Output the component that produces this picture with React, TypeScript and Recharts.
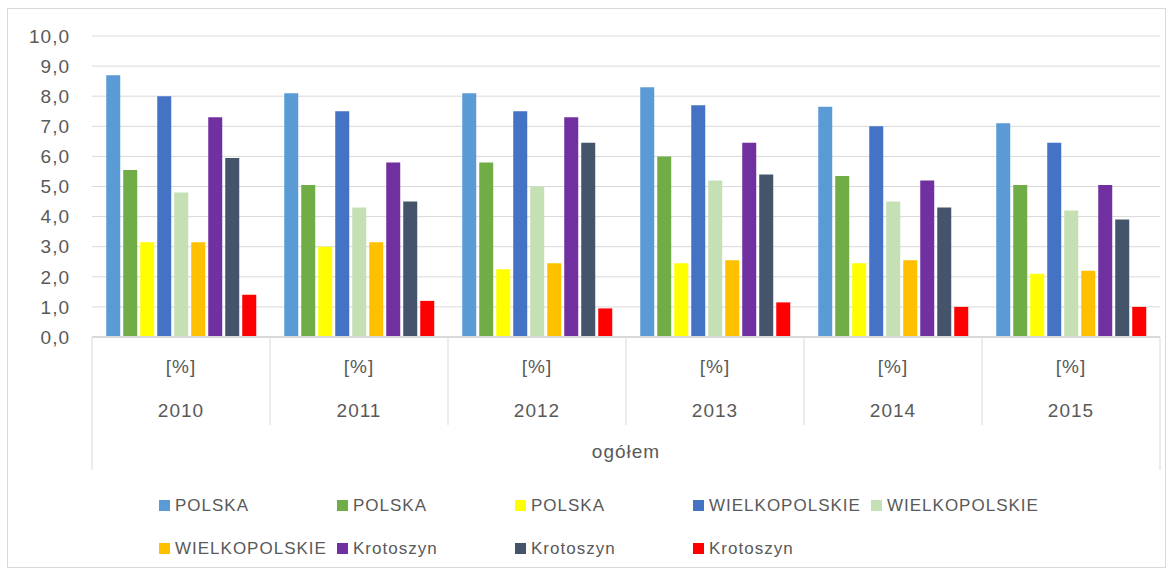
import React from 'react';
import { BarChart, Bar, XAxis, YAxis, CartesianGrid, Legend } from 'recharts';

const years = ['2010', '2011', '2012', '2013', '2014', '2015'];
const unitLabel = '[%]';
const groupLabel = 'ogółem';

const seriesNames = [
  'POLSKA', 'POLSKA', 'POLSKA',
  'WIELKOPOLSKIE', 'WIELKOPOLSKIE', 'WIELKOPOLSKIE',
  'Krotoszyn', 'Krotoszyn', 'Krotoszyn',
];
const seriesColors = [
  '#5B9BD5', '#70AD47', '#FFFF00',
  '#4472C4', '#C5E0B4', '#FFC000',
  '#7030A0', '#44546A', '#FF0000',
];

const polska1 = [8.7, 8.1, 8.1, 8.3, 7.65, 7.1];
const polska2 = [5.55, 5.05, 5.8, 6.0, 5.35, 5.05];
const polska3 = [3.15, 3.0, 2.25, 2.45, 2.45, 2.1];
const wlkp1 = [8.0, 7.5, 7.5, 7.7, 7.0, 6.45];
const wlkp2 = [4.8, 4.3, 5.0, 5.2, 4.5, 4.2];
const wlkp3 = [3.15, 3.15, 2.45, 2.55, 2.55, 2.2];
const krot1 = [7.3, 5.8, 7.3, 6.45, 5.2, 5.05];
const krot2 = [5.95, 4.5, 6.45, 5.4, 4.3, 3.9];
const krot3 = [1.4, 1.2, 0.95, 1.15, 1.0, 1.0];

const seriesValues = [polska1, polska2, polska3, wlkp1, wlkp2, wlkp3, krot1, krot2, krot3];
const yTicks = [0, 1, 2, 3, 4, 5, 6, 7, 8, 9, 10];

const W = 1174;
const H = 574;
const margin = { top: 36, right: 14, bottom: 104, left: 12 };
const yAxisWidth = 80;
const xAxisHeight = 133;
const band = (W - margin.left - margin.right - yAxisWidth) / years.length;

const gridColor = '#d9d9d9';
const textColor = '#595959';
const axisFont = '"Liberation Sans", Arial, sans-serif';
const legendFont = '"Liberation Sans Narrow", "Liberation Sans", Arial, sans-serif';

const data = years.map((year, i) => {
  const row: Record<string, string | number> = { year };
  seriesValues.forEach((vals, s) => {
    row[`s${s}`] = vals[i];
  });
  return row;
});

const fmt = (v: number) => v.toFixed(1).replace('.', ',');

// dwupoziomowa oś X: [%] nad rokiem, linie między kategoriami
const YearTick = (props: any) => {
  const { x, y, payload, index } = props;
  const left = x - band / 2;
  const right = x + band / 2;
  const last = index === years.length - 1;
  return (
    <g>
      <line x1={left} y1={y} x2={left} y2={y + (index === 0 ? 133 : 88)} stroke={gridColor} />
      {last && <line x1={right} y1={y} x2={right} y2={y + 133} stroke={gridColor} />}
      <text x={x} y={y + 36} textAnchor="middle" fill={textColor} fontSize={19} fontFamily={axisFont} letterSpacing={1}>
        {unitLabel}
      </text>
      <text x={x} y={y + 80} textAnchor="middle" fill={textColor} fontSize={19} fontFamily={axisFont} letterSpacing={1}>
        {payload.value}
      </text>
    </g>
  );
};

const LegendContent = () => (
  <div style={{ display: 'flex', flexWrap: 'wrap', width: 900 }}>
    {seriesNames.map((name, i) => (
      <div key={i} style={{ width: 178, height: 43, display: 'flex', alignItems: 'center' }}>
        <span style={{ width: 11, height: 11, background: seriesColors[i], marginRight: 5, flex: 'none' }} />
        <span style={{ color: textColor, fontFamily: legendFont, fontSize: 17, letterSpacing: 1, whiteSpace: 'nowrap' }}>
          {name}
        </span>
      </div>
    ))}
  </div>
);

export default function App() {
  return (
    <div style={{ position: 'absolute', left: 0, top: 0, width: W, height: H, background: '#fff' }}>
      <div
        style={{
          position: 'absolute', left: 7, top: 8, width: 1159, height: 560,
          border: `1px solid ${gridColor}`, boxSizing: 'border-box',
        }}
      />
      <BarChart width={W} height={H} data={data} margin={margin} barGap={3} barCategoryGap="8%">
        <CartesianGrid vertical={false} stroke={gridColor} />
        <YAxis
          width={yAxisWidth}
          domain={[0, 10]}
          ticks={yTicks}
          tickFormatter={fmt}
          axisLine={false}
          tickLine={false}
          tickMargin={16}
          tick={{ fill: textColor, fontSize: 19, fontFamily: axisFont, letterSpacing: 1 }}
        />
        <XAxis
          dataKey="year"
          height={xAxisHeight}
          interval={0}
          tickLine={false}
          tickSize={0}
          tickMargin={0}
          axisLine={{ stroke: gridColor, strokeWidth: 2 }}
          tick={<YearTick />}
          label={{ value: groupLabel, position: 'insideBottom', offset: 12, fill: textColor, fontSize: 19, fontFamily: axisFont, letterSpacing: 1 }}
        />
        <Legend
          verticalAlign="middle"
          layout="horizontal"
          wrapperStyle={{ top: 484, left: 159, width: 900, height: 86 }}
          content={<LegendContent />}
        />
        {seriesValues.map((_, s) => (
          <Bar
            key={s}
            dataKey={`s${s}`}
            name={seriesNames[s]}
            fill={seriesColors[s]}
            isAnimationActive={false}
          />
        ))}
      </BarChart>
    </div>
  );
}
